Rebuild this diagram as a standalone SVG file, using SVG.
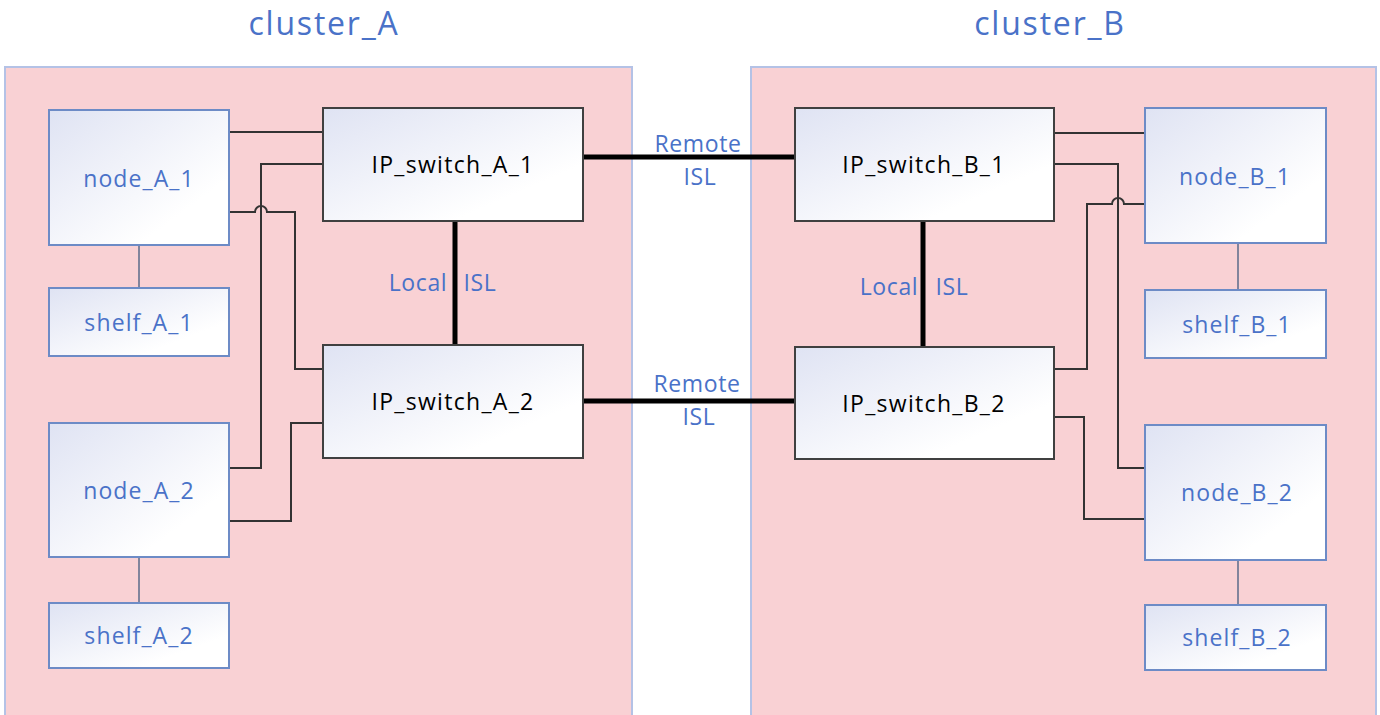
<svg xmlns="http://www.w3.org/2000/svg" width="1380" height="715" viewBox="0 0 1380 715">
<defs>
<linearGradient id="g" x1="0" y1="0" x2="1" y2="1">
<stop offset="0" stop-color="#dfe3f3"/>
<stop offset="0.75" stop-color="#ffffff"/>
</linearGradient>
<style>
.cl{fill:#f9d1d4;stroke:#b4c2e6;stroke-width:2}
.nd{fill:url(#g);stroke:#6d8bc6;stroke-width:2}
.sw{fill:url(#g);stroke:#404040;stroke-width:2}
.t{font-family:"Open Sans","Liberation Sans",sans-serif;font-size:23px;text-anchor:middle;fill:#4a72c8;letter-spacing:1.1px}
.ts{font-family:"Open Sans","Liberation Sans",sans-serif;font-size:23px;text-anchor:middle;fill:#000;letter-spacing:1.3px}
.tt{font-family:"Open Sans","Liberation Sans",sans-serif;font-size:32px;text-anchor:middle;fill:#4a72c8;letter-spacing:1.8px}
.tl{font-family:"Open Sans","Liberation Sans",sans-serif;font-size:23px;text-anchor:middle;fill:#4a72c8;letter-spacing:0.6px}
.c{fill:none;stroke:#333;stroke-width:2}
.th{fill:none;stroke:#000;stroke-width:5}
.cn{fill:none;stroke:#5a6a8a;stroke-width:1.5}
</style>
</defs>
<rect width="1380" height="715" fill="#fff"/>
<g id="cluster_A">
<rect class="cl" x="5" y="67" width="627" height="650"/>
<text class="tt" x="324" y="35">cluster_A</text>
</g>
<g id="cluster_B">
<rect class="cl" x="751" y="67" width="625" height="650"/>
<text class="tt" x="1050" y="35">cluster_B</text>
</g>
<g id="connectors">
<path class="c" d="M229,132 H323"/>
<path class="c" d="M323,164 H261 V468 H229"/>
<path class="c" d="M229,212 H255 A6,6 0 0 1 267,212 H295 V369 H323"/>
<path class="c" d="M323,423 H291 V521 H229"/>
<path class="cn" d="M139,245 V288"/>
<path class="cn" d="M139,557 V603"/>
<path class="c" d="M1054,133 H1145"/>
<path class="c" d="M1054,164 H1118 V468 H1145"/>
<path class="c" d="M1145,204 H1124 A6,6 0 0 0 1112,204 H1087 V369 H1054"/>
<path class="c" d="M1054,417 H1084 V519 H1145"/>
<path class="cn" d="M1238,243 V290"/>
<path class="cn" d="M1238,560 V605"/>
<path class="th" d="M455,221 V345"/>
<path class="th" d="M923,221 V347"/>
<path class="th" d="M583,157 H795"/>
<path class="th" d="M583,401 H795"/>
<text class="tl" x="418" y="291">Local</text>
<text class="tl" x="480" y="291">ISL</text>
<text class="tl" x="889" y="295">Local</text>
<text class="tl" x="952" y="295">ISL</text>
<text class="tl" x="698" y="152">Remote</text>
<text class="tl" x="700" y="185">ISL</text>
<text class="tl" x="697" y="392">Remote</text>
<text class="tl" x="699" y="425">ISL</text>
</g>
<g id="node_A_1"><rect class="nd" x="49" y="110" width="180" height="135"/><text class="t" x="139" y="187">node_A_1</text></g>
<g id="shelf_A_1"><rect class="nd" x="49" y="288" width="180" height="68"/><text class="t" x="139" y="331">shelf_A_1</text></g>
<g id="node_A_2"><rect class="nd" x="49" y="423" width="180" height="134"/><text class="t" x="139" y="499">node_A_2</text></g>
<g id="shelf_A_2"><rect class="nd" x="49" y="603" width="180" height="65"/><text class="t" x="139" y="644">shelf_A_2</text></g>
<g id="IP_switch_A_1"><rect class="sw" x="323" y="108" width="260" height="113"/><text class="ts" x="453" y="173">IP_switch_A_1</text></g>
<g id="IP_switch_A_2"><rect class="sw" x="323" y="345" width="260" height="113"/><text class="ts" x="453" y="410">IP_switch_A_2</text></g>
<g id="IP_switch_B_1"><rect class="sw" x="795" y="108" width="259" height="113"/><text class="ts" x="924" y="173">IP_switch_B_1</text></g>
<g id="IP_switch_B_2"><rect class="sw" x="795" y="347" width="259" height="112"/><text class="ts" x="924" y="412">IP_switch_B_2</text></g>
<g id="node_B_1"><rect class="nd" x="1145" y="108" width="181" height="135"/><text class="t" x="1235" y="185">node_B_1</text></g>
<g id="shelf_B_1"><rect class="nd" x="1145" y="290" width="181" height="68"/><text class="t" x="1237" y="333">shelf_B_1</text></g>
<g id="node_B_2"><rect class="nd" x="1145" y="425" width="181" height="135"/><text class="t" x="1237" y="501">node_B_2</text></g>
<g id="shelf_B_2"><rect class="nd" x="1145" y="605" width="181" height="65"/><text class="t" x="1237" y="646">shelf_B_2</text></g>
</svg>
